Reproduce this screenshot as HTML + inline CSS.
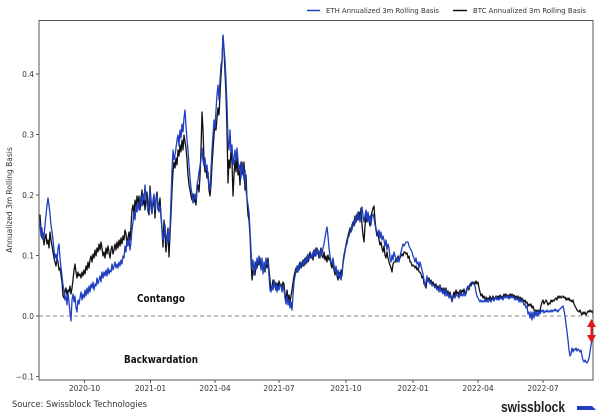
<!DOCTYPE html>
<html><head><meta charset="utf-8"><style>
html,body{margin:0;padding:0;background:#fff;}
svg{display:block;}
text{font-family:"DejaVu Sans","Liberation Sans",sans-serif;fill:#333;}
</style></head><body>
<svg width="600" height="420" viewBox="0 0 600 420" xmlns="http://www.w3.org/2000/svg">
<rect width="600" height="420" fill="#fff"/>
<!-- legend -->
<line x1="307" y1="10.5" x2="320" y2="10.5" stroke="#1f3fc0" stroke-width="1.5"/>
<text x="326" y="13" font-size="7" textLength="113" lengthAdjust="spacingAndGlyphs">ETH Annualized 3m Rolling Basis</text>
<line x1="453" y1="10.5" x2="467" y2="10.5" stroke="#111" stroke-width="1.5"/>
<text x="473" y="13" font-size="7" textLength="113" lengthAdjust="spacingAndGlyphs">BTC Annualized 3m Rolling Basis</text>
<!-- zero line -->
<line x1="39" y1="316" x2="593" y2="316" stroke="#888" stroke-width="1" stroke-dasharray="4,3"/>
<!-- BTC -->
<polyline fill="none" stroke="#111" stroke-width="1.3" stroke-linejoin="round" points="39,222 40,215 41,230 42,238 43,233 44,245 45,238 46,234 47,244 48,240 49,248 50,232 51,240 52,246 53,252 54,258 55,262 56,266 57,258 58,262 59,270 60,268 61,275 62,282 63,296 64,298 65,292 66,288 67,295 68,290 69,292 70,286 71,294 72,288 73,280 74,270 75,264 76,272 77,278 78,272 79,276 80,274 81,278 82,272 83,276 84,270 85,274 86,266 87,270 88,262 89,268 90,260 91,256 92,262 93,254 94,258 95,250 96,256 97,248 98,252 99,244 100,250 101,242 102,248 103,256 104,252 105,258 106,248 107,254 108,246 109,252 110,258 111,250 112,246 113,254 114,250 115,244 116,250 117,242 118,248 119,240 120,246 121,238 122,244 123,236 124,240 125,230 126,234 127,244 128,238 129,232 130,240 131,226 132,210 133,205 134,215 135,200 136,208 137,196 138,204 139,196 140,210 141,200 142,190 143,205 144,196 145,210 146,198 147,192 148,210 149,215 150,186 151,200 152,212 153,205 154,196 155,218 156,200 157,192 158,210 159,206 160,198 161,215 162,230 163,247 164,220 165,235 166,252 167,240 168,228 169,257 170,235 171,215 172,190 173,172 174,162 175,168 176,158 177,165 178,150 179,156 180,145 181,152 182,140 183,150 184,135 185,142 186,148 187,160 188,175 189,185 190,190 191,196 192,200 193,194 194,202 195,198 196,205 197,190 198,185 199,192 200,176 201,150 202,112 203,130 204,160 205,172 206,168 207,178 208,172 209,190 210,196 211,185 212,165 213,150 214,135 215,125 216,130 217,118 218,108 219,115 220,95 221,75 222,62 223,36 224,50 225,72 226,95 227,130 228,183 229,160 230,168 231,150 232,162 233,196 234,175 235,160 236,172 237,155 238,175 239,168 240,185 241,162 242,170 243,175 244,162 245,190 246,175 247,200 248,215 249,220 250,235 251,260 252,280 253,270 254,266 255,275 256,262 257,268 258,260 259,265 260,258 261,268 262,262 263,270 264,265 265,272 266,262 267,268 268,258 269,270 270,280 271,290 272,287 273,280 274,286 275,282 276,290 277,283 278,288 279,281 280,286 281,284 282,290 283,282 284,284 285,295 286,300 287,290 288,300 289,295 290,302 291,296 292,290 293,283 294,276 295,272 296,268 297,272 298,266 299,270 300,262 301,268 302,265 303,260 304,266 305,258 306,264 307,256 308,262 309,258 310,252 311,258 312,255 313,260 314,250 315,256 316,248 317,254 318,250 319,258 320,252 321,248 322,256 323,258 324,252 325,260 326,256 327,262 328,255 329,260 330,258 331,265 332,268 333,262 334,270 335,275 336,268 337,276 338,280 339,272 340,278 341,270 342,276 343,262 344,255 345,250 346,245 347,240 348,236 349,232 350,228 351,232 352,225 353,222 354,226 355,216 356,222 357,214 358,220 359,212 360,218 361,208 362,225 363,235 364,242 365,226 366,216 367,222 368,214 369,220 370,226 371,216 372,212 373,208 374,206 375,220 376,230 377,236 378,232 379,240 380,245 381,242 382,248 383,252 384,246 385,255 386,258 387,252 388,258 389,262 390,265 391,268 392,272 393,264 394,262 395,262 396,258 397,262 398,256 399,260 400,258 401,256 402,254 403,256 404,252 405,252 406,254 407,253 408,258 409,256 410,262 411,262 412,266 413,265 414,266 415,268 416,266 417,270 418,268 419,272 420,272 421,274 422,278 423,276 424,284 425,285 426,288 427,278 428,280 429,278 430,282 431,280 432,284 433,282 434,284 435,286 436,284 437,288 438,286 439,290 440,285 441,290 442,288 443,292 444,288 445,294 446,288 447,294 448,291 449,296 450,292 451,296 452,300 453,296 454,292 455,296 456,290 457,294 458,292 459,296 460,290 461,294 462,290 463,292 464,289 465,294 466,292 467,288 468,286 469,290 470,284 471,286 472,282 473,284 474,282 475,284 476,281 477,284 478,282 479,288 480,292 481,296 482,294 483,298 484,296 485,300 486,297 487,300 488,298 489,300 490,296 491,300 492,298 493,296 494,300 495,298 496,296 497,299 498,296 499,298 500,295 501,298 502,296 503,298 504,294 505,296 506,294 507,297 508,295 509,298 510,294 511,296 512,294 513,297 514,295 515,298 516,296 517,299 518,296 519,300 520,297 521,300 522,298 523,300 524,302 525,300 526,303 527,302 528,306 529,304 530,306 531,304 532,308 533,306 534,310 535,312 536,310 537,312 538,310 539,313 540,310 541,306 542,302 543,300 544,304 545,302 546,300 547,302 548,305 549,303 550,304 551,300 552,302 553,300 554,301 555,299 556,298 557,300 558,296 559,298 560,296 561,298 562,297 563,296 564,298 565,297 566,300 567,298 568,300 569,298 570,301 571,300 572,302 573,300 574,304 575,306 576,308 577,310 578,311 579,312 580,310 581,313 582,315 583,312 584,314 585,312 586,315 587,313 588,311 589,312 590,310 591,312 592,311 593,314"/>
<!-- ETH -->
<polyline fill="none" stroke="#1f3fc0" stroke-width="1.3" stroke-linejoin="round" points="39,218 40,225 41,236 42,228 43,240 44,236 45,225 46,215 47,205 48,198 49,205 50,214 51,225 52,232 53,240 54,250 55,258 56,254 57,262 58,248 59,244 60,258 61,268 62,276 63,285 64,290 65,300 66,296 67,305 68,292 69,302 70,312 71,321 72,300 73,294 74,302 75,296 76,308 77,312 78,300 79,304 80,298 81,292 82,300 83,294 84,298 85,290 86,296 87,288 88,294 89,286 90,292 91,284 92,288 93,282 94,290 95,284 96,286 97,278 98,284 99,280 100,276 101,282 102,272 103,278 104,272 105,276 106,270 107,276 108,268 109,274 110,270 111,272 112,264 113,270 114,266 115,262 116,268 117,264 118,268 119,262 120,266 121,260 122,264 123,256 124,258 125,246 126,252 127,240 128,246 129,238 130,250 131,242 132,230 133,222 134,212 135,220 136,206 137,212 138,202 139,210 140,204 141,196 142,206 143,194 144,200 145,185 146,198 147,204 148,212 149,200 150,190 151,208 152,214 153,200 154,194 155,210 156,198 157,196 158,204 159,212 160,205 161,218 162,228 163,240 164,235 165,225 166,238 167,244 168,232 169,242 170,228 171,200 172,170 173,150 174,160 175,155 176,148 177,140 178,135 179,146 180,130 181,138 182,124 183,132 184,118 185,110 186,126 187,140 188,150 189,165 190,178 191,188 192,194 193,203 194,198 195,194 196,200 197,185 198,180 199,172 200,166 201,160 202,148 203,160 204,166 205,158 206,170 207,165 208,178 209,185 210,190 211,170 212,150 213,135 214,120 215,128 216,110 217,95 218,85 219,100 220,80 221,65 222,60 223,35 224,48 225,60 226,80 227,105 228,140 229,150 230,130 231,152 232,145 233,165 234,158 235,150 236,162 237,148 238,160 239,170 240,165 241,178 242,162 243,170 244,180 245,170 246,190 247,198 248,205 249,212 250,230 251,250 252,268 253,260 254,275 255,262 256,270 257,258 258,264 259,256 260,262 261,270 262,258 263,274 264,262 265,270 266,258 267,264 268,262 269,276 270,290 271,292 272,286 273,290 274,280 275,288 276,284 277,292 278,286 279,290 280,284 281,286 282,292 283,286 284,290 285,298 286,304 287,296 288,305 289,300 290,308 291,302 292,310 293,295 294,282 295,276 296,272 297,266 298,272 299,264 300,268 301,264 302,262 303,266 304,260 305,264 306,258 307,262 308,254 309,260 310,256 311,254 312,258 313,252 314,256 315,250 316,256 317,248 318,254 319,252 320,258 321,250 322,254 323,248 324,244 325,238 326,232 327,227 328,236 329,248 330,256 331,262 332,264 333,258 334,266 335,272 336,266 337,276 338,270 339,278 340,274 341,280 342,272 343,264 344,258 345,252 346,246 347,244 348,238 349,236 350,232 351,228 352,230 353,224 354,220 355,224 356,216 357,220 358,212 359,216 360,222 361,214 362,207 363,215 364,222 365,216 366,210 367,220 368,212 369,222 370,216 371,225 372,216 373,214 374,218 375,225 376,228 377,232 378,236 379,230 380,238 381,232 382,240 383,236 384,240 385,246 386,240 387,250 388,244 389,248 390,258 391,262 392,255 393,260 394,252 395,256 396,258 397,262 398,258 399,262 400,256 401,252 402,248 403,244 404,246 405,244 406,242 407,242 408,242 409,246 410,248 411,250 412,252 413,256 414,258 415,262 416,258 417,264 418,262 419,268 420,262 421,266 422,270 423,274 424,280 425,286 426,282 427,276 428,282 429,280 430,284 431,282 432,286 433,284 434,286 435,288 436,286 437,290 438,288 439,292 440,286 441,292 442,290 443,294 444,290 445,296 446,290 447,296 448,293 449,298 450,294 451,298 452,302 453,298 454,296 455,298 456,294 457,296 458,296 459,298 460,292 461,296 462,294 463,296 464,292 465,296 466,294 467,290 468,286 469,288 470,284 471,283 472,282 473,282 474,284 475,286 476,292 477,296 478,298 479,300 480,302 481,300 482,302 483,301 484,302 485,298 486,302 487,300 488,302 489,301 490,299 491,302 492,300 493,298 494,301 495,299 496,297 497,300 498,298 499,300 500,297 501,299 502,297 503,300 504,296 505,298 506,296 507,298 508,296 509,299 510,296 511,298 512,296 513,298 514,297 515,300 516,298 517,300 518,298 519,302 520,299 521,302 522,300 523,302 524,305 525,304 526,308 527,306 528,314 529,312 530,318 531,312 532,320 533,312 534,318 535,310 536,316 537,312 538,316 539,312 540,314 541,310 542,312 543,310 544,313 545,311 546,312 547,310 548,312 549,311 550,312 551,310 552,312 553,310 554,311 555,309 556,311 557,310 558,312 559,310 560,309 561,308 562,307 563,306 564,310 565,316 566,324 567,332 568,340 569,350 570,356 571,354 572,348 573,352 574,349 575,350 576,348 577,351 578,349 579,350 580,352 581,350 582,356 583,360 584,362 585,360 586,362 587,363 588,361 589,358 590,352 591,345 592,340 593,335"/>
<!-- frame -->
<rect x="39" y="20.5" width="554" height="359.5" fill="none" stroke="#555" stroke-width="1"/>
<!-- y ticks -->
<g stroke="#555" stroke-width="1">
<line x1="36" y1="74" x2="39" y2="74"/>
<line x1="36" y1="134.5" x2="39" y2="134.5"/>
<line x1="36" y1="195" x2="39" y2="195"/>
<line x1="36" y1="255.5" x2="39" y2="255.5"/>
<line x1="36" y1="316" x2="39" y2="316"/>
<line x1="36" y1="376.5" x2="39" y2="376.5"/>
<line x1="84.5" y1="380" x2="84.5" y2="383"/>
<line x1="150.5" y1="380" x2="150.5" y2="383"/>
<line x1="215" y1="380" x2="215" y2="383"/>
<line x1="279" y1="380" x2="279" y2="383"/>
<line x1="346" y1="380" x2="346" y2="383"/>
<line x1="413" y1="380" x2="413" y2="383"/>
<line x1="478" y1="380" x2="478" y2="383"/>
<line x1="543" y1="380" x2="543" y2="383"/>
</g>
<g font-size="7.5" text-anchor="end">
<text x="34" y="77">0.4</text>
<text x="34" y="137.5">0.3</text>
<text x="34" y="198">0.2</text>
<text x="34" y="258.5">0.1</text>
<text x="34" y="319">0.0</text>
<text x="34" y="379.5">−0.1</text>
</g>
<g font-size="7.5" text-anchor="middle">
<text x="84.5" y="391">2020-10</text>
<text x="150.5" y="391">2021-01</text>
<text x="215" y="391">2021-04</text>
<text x="279" y="391">2021-07</text>
<text x="346" y="391">2021-10</text>
<text x="413" y="391">2022-01</text>
<text x="478" y="391">2022-04</text>
<text x="543" y="391">2022-07</text>
</g>
<text transform="translate(12,200) rotate(-90)" font-size="7.5" text-anchor="middle">Annualized 3m Rolling Basis</text>
<!-- annotations -->
<text x="137" y="302" font-size="11" font-weight="bold" fill="#111" style="fill:#111" textLength="48" lengthAdjust="spacingAndGlyphs">Contango</text>
<text x="124" y="363" font-size="11" font-weight="bold" style="fill:#111" textLength="74" lengthAdjust="spacingAndGlyphs">Backwardation</text>
<!-- red arrow -->
<line x1="591.5" y1="324" x2="591.5" y2="338" stroke="#e5161a" stroke-width="2"/>
<polygon points="591.5,319 587,327 596,327" fill="#e5161a"/>
<polygon points="591.5,343 587,335 596,335" fill="#e5161a"/>
<!-- footer -->
<text x="12" y="407" font-size="9" font-family="Liberation Sans, sans-serif" style="fill:#333" textLength="135" lengthAdjust="spacingAndGlyphs">Source: Swissblock Technologies</text>
<text x="501" y="412" font-size="15" font-weight="bold" font-family="Liberation Sans, sans-serif" style="fill:#222;font-family:'Liberation Sans',sans-serif" textLength="64" lengthAdjust="spacingAndGlyphs">swissblock</text>
<polygon points="577,406 592,406 596,410 577,410" fill="#1f3fc0"/>
</svg>
</body></html>
